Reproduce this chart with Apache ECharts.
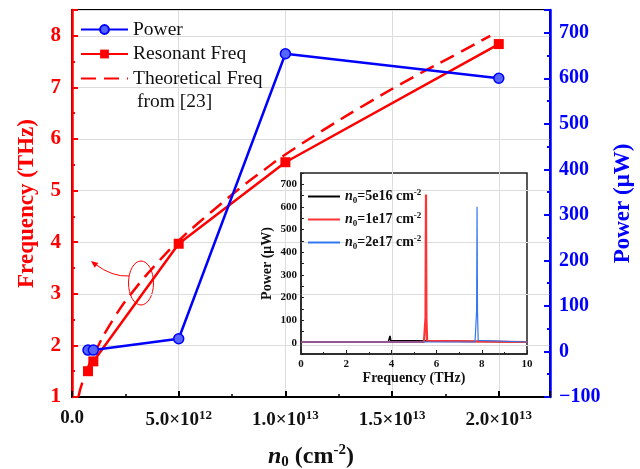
<!DOCTYPE html>
<html>
<head>
<meta charset="utf-8">
<script src="https://cdn.jsdelivr.net/npm/echarts@6/dist/echarts.min.js"></script>
<style>html,body{margin:0;padding:0;background:#fff}#main{width:640px;height:469px}</style>
</head>
<body>
<div id="main"></div>
<script>
var serif = "'Liberation Serif', 'DejaVu Serif', serif";

// main plot: sheet density n0 (cm^-2)
var density = [0.75e12, 1e12, 5e12, 1e13, 2e13];
var resonantFreq = [1.50, 1.69, 3.97, 5.55, 7.84];
var powerUW = [3, 3, 28, 654, 600];

// dashed theory curve
var theoryDensity = [0.3e12, 0.5e12, 1e12, 2e12, 3e12, 4e12, 5e12, 6e12, 7e12, 8e12, 9e12, 1e13, 1.2e13, 1.4e13, 1.6e13, 1.8e13, 1.96e13];
var theoryFreq = [1.0, 1.3, 1.8, 2.55, 3.12, 3.6, 4.03, 4.4, 4.75, 5.09, 5.4, 5.7, 6.23, 6.73, 7.2, 7.64, 8.0];

// inset spectra [THz, uW]
var spec5e16 = [[0, 3], [3.86, 3], [3.91, 10], [3.94, 30], [3.97, 10], [4.02, 3], [10, 3]];
var spec1e17 = [[0, 3], [5.44, 3], [5.49, 8], [5.51, 110], [5.53, 655], [5.55, 110], [5.58, 8], [5.62, 3], [10, 3]];
var spec2e17 = [[0, 3], [7.70, 3], [7.74, 10], [7.77, 140], [7.79, 601], [7.81, 140], [7.84, 10], [7.89, 3], [10, 3]];

var mainLegend = ['Power', 'Resonant Freq', 'Theoretical Freq'];
var insetNames = ['5e16', '1e17', '2e17'];

function zip(a, b) { return a.map(function (v, i) { return [v, b[i]]; }); }

function sciLabel(v) {
    if (v === 0) return '{b|0.0}';
    var e = Math.floor(Math.log10(v) + 1e-9);
    var m = v / Math.pow(10, e);
    return '{b|' + m.toFixed(1) + '×10}{s|' + e + '}';
}

// line-only legend entries (no marker)
function lineOnly(n) { return { name: n, itemStyle: { opacity: 0 } }; }

var dom = document.getElementById('main');
var chart = echarts.init(dom);

var option = {
    animation: false,
    backgroundColor: '#fff',
    textStyle: { fontFamily: serif },
    grid: [
        { left: 72, right: 90, top: 10, bottom: 72, outerBoundsMode: 'none', containLabel: false,
          show: true, borderColor: '#000', borderWidth: 2 },
        { left: 301, top: 173, width: 226, height: 181, outerBoundsMode: 'none', containLabel: false,
          show: true, borderColor: '#222', borderWidth: 1.5 }
    ],
    legend: [{
        data: [mainLegend[0], mainLegend[1], lineOnly(mainLegend[2])],
        orient: 'vertical', left: 80, top: 19, padding: 0,
        itemWidth: 47, itemHeight: 11, itemGap: 3.5,
        textStyle: { fontFamily: serif, fontSize: 19.5, color: '#111', lineHeight: 21 }
    }, {
        data: insetNames.map(lineOnly),
        orient: 'vertical', left: 307, top: 188, padding: 0,
        itemWidth: 32, itemHeight: 10, itemGap: 6,
        formatter: function (n) { return '{i|n}{o|0}{t|=' + n + ' cm}{p|-2}'; },
        textStyle: {
            fontFamily: serif, color: '#111',
            rich: {
                i: { fontSize: 14, fontStyle: 'italic', fontWeight: 'bold', fontFamily: serif },
                o: { fontSize: 9, fontWeight: 'bold', fontFamily: serif, verticalAlign: 'bottom' },
                t: { fontSize: 14, fontWeight: 'bold', fontFamily: serif },
                p: { fontSize: 9, fontWeight: 'bold', fontFamily: serif, verticalAlign: 'bottom', padding: [0, 0, 8, 0] }
            }
        }
    }],
    xAxis: [{
        gridIndex: 0, type: 'value', min: 0, max: 2.24e13, interval: 5e12,
        name: '{i|n}{o|0}{t| (cm}{p|-2}{t|)}',
        nameLocation: 'middle', nameGap: 46,
        nameTextStyle: {
            rich: {
                i: { fontSize: 24, fontStyle: 'italic', fontWeight: 'bold', fontFamily: serif, color: '#111' },
                o: { fontSize: 15, fontWeight: 'bold', fontFamily: serif, color: '#111', verticalAlign: 'bottom' },
                t: { fontSize: 24, fontWeight: 'bold', fontFamily: serif, color: '#111' },
                p: { fontSize: 15, fontWeight: 'bold', fontFamily: serif, color: '#111', verticalAlign: 'bottom', padding: [0, 0, 12, 0] }
            }
        },
        axisLine: { onZero: false, lineStyle: { color: '#000', width: 2 } },
        axisTick: { inside: true, length: 6, lineStyle: { color: '#000', width: 2 } },
        minorTick: { show: true, splitNumber: 2, length: 3, lineStyle: { color: '#000', width: 1.5 } },
        splitLine: { show: true, lineStyle: { color: '#dcdcdc', width: 1 } },
        axisLabel: {
            margin: 12, showMaxLabel: false,
            formatter: sciLabel,
            rich: {
                b: { fontSize: 19, fontWeight: 'bold', fontFamily: serif, color: '#111' },
                s: { fontSize: 13, fontWeight: 'bold', fontFamily: serif, color: '#111', verticalAlign: 'bottom', padding: [0, 0, 10, 0] }
            }
        }
    }, {
        gridIndex: 1, type: 'value', min: 0, max: 10, interval: 2,
        name: 'Frequency (THz)', nameLocation: 'middle', nameGap: 17,
        nameTextStyle: { fontSize: 14, fontWeight: 'bold', fontFamily: serif, color: '#111' },
        axisLine: { onZero: false, lineStyle: { color: '#222', width: 1.5 } },
        axisTick: { inside: true, length: 4, lineStyle: { color: '#222' } },
        minorTick: { show: true, splitNumber: 2, length: 2, lineStyle: { color: '#222' } },
        splitLine: { show: false },
        axisLabel: { margin: 5, fontSize: 11, fontWeight: 'bold', fontFamily: serif, color: '#111' }
    }],
    yAxis: [{
        gridIndex: 0, type: 'value', position: 'left', min: 1, max: 8.5, interval: 1,
        name: 'Frequency (THz)', nameLocation: 'middle', nameGap: 33,
        nameTextStyle: { fontSize: 23, fontWeight: 'bold', fontFamily: serif, color: '#ff0000' },
        axisLine: { onZero: false, lineStyle: { color: '#ff0000', width: 2.5 } },
        axisTick: { inside: true, length: 6, lineStyle: { color: '#ff0000', width: 2 } },
        minorTick: { show: true, splitNumber: 2, length: 3, lineStyle: { color: '#ff0000', width: 2 } },
        splitLine: { show: true, lineStyle: { color: '#dcdcdc', width: 1 } },
        axisLabel: { margin: 11, showMaxLabel: false, fontSize: 21, fontWeight: 'bold', fontFamily: serif, color: '#ff0000' }
    }, {
        gridIndex: 0, type: 'value', position: 'right', min: -100, max: 750, interval: 100,
        name: 'Power (μW)', nameLocation: 'middle', nameGap: 58, nameRotate: 90,
        nameTextStyle: { fontSize: 23, fontWeight: 'bold', fontFamily: serif, color: '#0000ff' },
        axisLine: { onZero: false, lineStyle: { color: '#0000ff', width: 2.5 } },
        axisTick: { inside: true, length: 6, lineStyle: { color: '#0000ff', width: 2 } },
        minorTick: { show: true, splitNumber: 2, length: 3, lineStyle: { color: '#0000ff', width: 2 } },
        splitLine: { show: false },
        axisLabel: {
            margin: 9, showMaxLabel: false, fontSize: 20, fontWeight: 'bold', fontFamily: serif, color: '#0000ff',
            formatter: function (v) { return v < 0 ? '\u2212' + (-v) : '' + v; }
        }
    }, {
        gridIndex: 1, type: 'value', min: -50, max: 750, interval: 50,
        name: 'Power (μW)', nameLocation: 'middle', nameGap: 27,
        nameTextStyle: { fontSize: 14, fontWeight: 'bold', fontFamily: serif, color: '#111' },
        axisLine: { onZero: false, lineStyle: { color: '#222', width: 1.5 } },
        axisTick: { inside: true, length: 3, lineStyle: { color: '#222' } },
        splitLine: { show: false },
        axisLabel: {
            margin: 4, fontSize: 11, fontWeight: 'bold', fontFamily: serif, color: '#111',
            formatter: function (v) { return (v % 100 === 0 && v >= 0 && v <= 700) ? '' + v : ''; }
        }
    }],
    series: [{
        name: 'Theoretical Freq', type: 'line', xAxisIndex: 0, yAxisIndex: 0,
        data: zip(theoryDensity, theoryFreq), smooth: true, symbol: 'none',
        lineStyle: { color: '#ff0000', width: 2.5, type: [15, 8] }, itemStyle: { color: '#ff0000' }
    }, {
        name: 'Resonant Freq', type: 'line', xAxisIndex: 0, yAxisIndex: 0,
        data: zip(density, resonantFreq), symbol: 'rect', symbolSize: 10,
        lineStyle: { color: '#ff0000', width: 2.5 }, itemStyle: { color: '#ff0000' }
    }, {
        name: 'Power', type: 'line', xAxisIndex: 0, yAxisIndex: 1,
        data: zip(density, powerUW), symbol: 'circle', symbolSize: 10,
        lineStyle: { color: '#0000ff', width: 2.5 },
        itemStyle: { color: '#5566ff', borderColor: '#0000ff', borderWidth: 1.5 }
    }, {
        name: '5e16', type: 'line', xAxisIndex: 1, yAxisIndex: 2, data: spec5e16, symbol: 'none',
        lineStyle: { color: '#000', width: 1.5 }, itemStyle: { color: '#000' }
    }, {
        name: '1e17', type: 'line', xAxisIndex: 1, yAxisIndex: 2, data: spec1e17, symbol: 'none',
        lineStyle: { color: '#ff3333', width: 2.2 }, itemStyle: { color: '#ff3333' }
    }, {
        name: '2e17', type: 'line', xAxisIndex: 1, yAxisIndex: 2, data: spec2e17, symbol: 'none',
        lineStyle: { color: '#3377ee', width: 1.2 }, itemStyle: { color: '#3377ee' }
    }],
    graphic: [{
        type: 'text', left: 137, top: 92,
        style: { text: 'from [23]', fontSize: 19.5, fontFamily: serif, fill: '#111' }
    }, {
        type: 'ellipse', shape: { cx: 141, cy: 283, rx: 12.5, ry: 22 },
        style: { fill: 'none', stroke: '#ff0000', lineWidth: 1 }
    }, {
        type: 'bezierCurve', shape: { x1: 129, y1: 276, cpx1: 112, cpy1: 277, x2: 95, y2: 264 },
        style: { fill: 'none', stroke: '#ff0000', lineWidth: 1 }
    }, {
        type: 'polygon', shape: { points: [[91, 261], [98.3, 262.9], [94.7, 267.7]] },
        style: { fill: '#ff0000' }
    }]
};

if (option && typeof option === 'object') {
    chart.setOption(option, true);
}
</script>
</body>
</html>
